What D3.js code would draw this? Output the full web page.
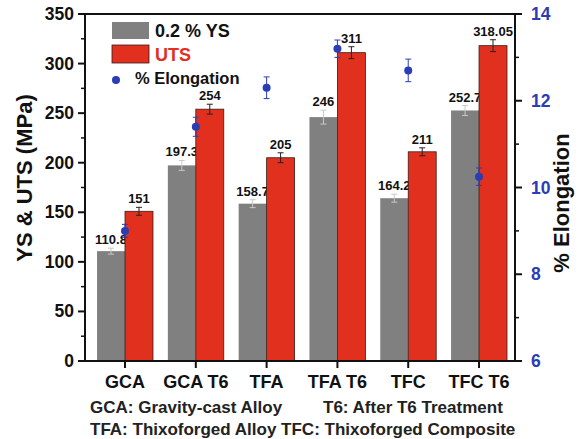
<!DOCTYPE html>
<html><head><meta charset="utf-8">
<script src="https://cdn.jsdelivr.net/npm/d3@7"></script>
<style>body{margin:0;background:#fff}text{font-family:"Liberation Sans",Arial,sans-serif;font-weight:bold}</style>
</head><body><svg id="c" width="579" height="439"></svg>
<script>
const categories = ["GCA","GCA T6","TFA","TFA T6","TFC","TFC T6"];
const ysValues = [110.8,197.3,158.7,246,164.2,252.7];
const ysErrors = [3,5,4,7,4,5];
const utsValues = [151,254,205,311,211,318.05];
const utsErrors = [4,5,5,6,4,6];
const ysLabels = ["110.8","197.3","158.7","246","164.2","252.7"];
const utsLabels = ["151","254","205","311","211","318.05"];
const elongValues = [9.0,11.4,12.3,13.2,12.7,10.25];
const elongErrors = [0.15,0.22,0.25,0.2,0.26,0.2];
const leftTicks = [0,50,100,150,200,250,300,350];
const rightTicks = [6,8,10,12,14];

const GRAY="#808080", RED="#e2301f", BLUE="#2b3db4", INK="#111";
const L=85,R=515,T=14,B=361;
const svg=d3.select("#c");
const x=d3.scaleLinear().domain([0.435,6.508]).range([L,R]);
const y=d3.scaleLinear().domain([0,350]).range([B,T]);
const y2=d3.scaleLinear().domain([6,14]).range([B,T]);
const bw = x(1.395)-x(1);

const g=svg.append("g");
g.selectAll(".ys").data(ysValues).join("rect")
 .attr("x",(d,i)=>x(i+1)-bw).attr("width",bw)
 .attr("y",d=>y(d)).attr("height",d=>B-y(d)).attr("fill",GRAY);
ysValues.forEach((d,i)=>{
  const cx=x(i+1)-bw/2;
  const e=ysErrors[i];
  g.append("path").attr("d",`M${cx},${y(d-e)}V${y(d+e)}M${cx-3},${y(d-e)}h6M${cx-3},${y(d+e)}h6`)
   .attr("stroke","#c8c8c8").attr("stroke-width",1).attr("fill","none");
});
g.selectAll(".ysl").data(ysLabels).join("text")
 .attr("x",(d,i)=>x(i+1)-bw/2).attr("y",(d,i)=>y(ysValues[i]+ysErrors[i])-4)
 .attr("text-anchor","middle").attr("font-size",13).attr("fill",INK).text(d=>d);
g.selectAll(".uts").data(utsValues).join("rect")
 .attr("x",(d,i)=>x(i+1)).attr("width",bw)
 .attr("y",d=>y(d)).attr("height",d=>B-y(d)).attr("fill",RED)
 .attr("stroke","#3a1a14").attr("stroke-width",0.8);
utsValues.forEach((d,i)=>{
  const cx=x(i+1)+bw/2;
  const e=utsErrors[i];
  g.append("path").attr("d",`M${cx},${y(d-e)}V${y(d+e)}M${cx-3},${y(d-e)}h6M${cx-3},${y(d+e)}h6`)
   .attr("stroke","#222").attr("stroke-width",1).attr("fill","none");
});
g.selectAll(".utsl").data(utsLabels).join("text")
 .attr("x",(d,i)=>x(i+1)+bw/2).attr("y",(d,i)=>y(utsValues[i]+utsErrors[i])-4)
 .attr("text-anchor","middle").attr("font-size",13).attr("fill",INK).text(d=>d);
elongValues.forEach((d,i)=>{
  const cx=x(i+1), e=elongErrors[i];
  g.append("path").attr("d",`M${cx},${y2(d-e)}V${y2(d+e)}M${cx-3},${y2(d-e)}h6M${cx-3},${y2(d+e)}h6`)
   .attr("stroke",BLUE).attr("stroke-width",1).attr("fill","none");
  g.append("circle").attr("cx",cx).attr("cy",y2(d)).attr("r",4).attr("fill",BLUE);
});

const ax=svg.append("g");
ax.append("line").attr("x1",L-7).attr("x2",R+7).attr("y1",T).attr("y2",T).attr("stroke",INK).attr("stroke-width",2);
ax.append("line").attr("x1",L).attr("x2",R).attr("y1",B).attr("y2",B).attr("stroke",INK).attr("stroke-width",2);
ax.append("line").attr("x1",L).attr("x2",L).attr("y1",T).attr("y2",B).attr("stroke",INK).attr("stroke-width",2);
ax.append("line").attr("x1",R).attr("x2",R).attr("y1",T).attr("y2",B).attr("stroke",INK).attr("stroke-width",2);
leftTicks.forEach(t=>{
  ax.append("line").attr("x1",L-7).attr("x2",L).attr("y1",y(t)).attr("y2",y(t)).attr("stroke",INK).attr("stroke-width",2);
  ax.append("text").attr("x",L-11).attr("y",y(t)+6).attr("text-anchor","end").attr("font-size",17.5).attr("fill",INK).text(t);
  if(t<350) ax.append("line").attr("x1",L-4).attr("x2",L).attr("y1",y(t+25)).attr("y2",y(t+25)).attr("stroke",INK).attr("stroke-width",1.5);
});
rightTicks.forEach(t=>{
  ax.append("line").attr("x1",R).attr("x2",R+7).attr("y1",y2(t)).attr("y2",y2(t)).attr("stroke",INK).attr("stroke-width",2);
  ax.append("text").attr("x",R+16).attr("y",y2(t)+6).attr("font-size",17.5).attr("fill",BLUE).text(t);
  if(t<14) ax.append("line").attr("x1",R).attr("x2",R+4).attr("y1",y2(t+1)).attr("y2",y2(t+1)).attr("stroke",INK).attr("stroke-width",1.5);
});
categories.forEach((c,i)=>{
  ax.append("line").attr("x1",x(i+1)).attr("x2",x(i+1)).attr("y1",B).attr("y2",B+7).attr("stroke",INK).attr("stroke-width",2);
  ax.append("text").attr("x",x(i+1)).attr("y",B+27).attr("text-anchor","middle").attr("font-size",18).attr("fill",INK).text(c);
});
svg.append("text").attr("transform",`translate(32,178) rotate(-90)`).attr("text-anchor","middle")
 .attr("font-size",22).attr("fill",INK).text("YS & UTS (MPa)");
svg.append("text").attr("transform",`translate(569,203) rotate(-90)`).attr("text-anchor","middle")
 .attr("font-size",22).attr("fill",INK).text("% Elongation");
svg.append("text").attr("x",90).attr("y",413).attr("font-size",17).attr("fill","#222").text("GCA: Gravity-cast Alloy");
svg.append("text").attr("x",323).attr("y",413).attr("font-size",17).attr("fill","#222").text("T6: After T6 Treatment");
svg.append("text").attr("x",90).attr("y",435).attr("font-size",17).attr("fill","#222").text("TFA: Thixoforged Alloy TFC: Thixoforged Composite");
const lg=svg.append("g");
lg.append("rect").attr("x",112).attr("y",22).attr("width",37).attr("height",17).attr("fill",GRAY);
lg.append("text").attr("x",155).attr("y",37).attr("font-size",18).attr("fill",INK).text("0.2 % YS");
lg.append("rect").attr("x",112).attr("y",45).attr("width",37).attr("height",18).attr("fill",RED).attr("stroke","#3a1a14").attr("stroke-width",0.8);
lg.append("text").attr("x",155).attr("y",61).attr("font-size",18).attr("fill",RED).text("UTS");
lg.append("circle").attr("cx",116).attr("cy",80).attr("r",4).attr("fill",BLUE);
lg.append("text").attr("x",135).attr("y",84).attr("font-size",16.5).attr("fill",INK).text("% Elongation");
</script></body></html>
